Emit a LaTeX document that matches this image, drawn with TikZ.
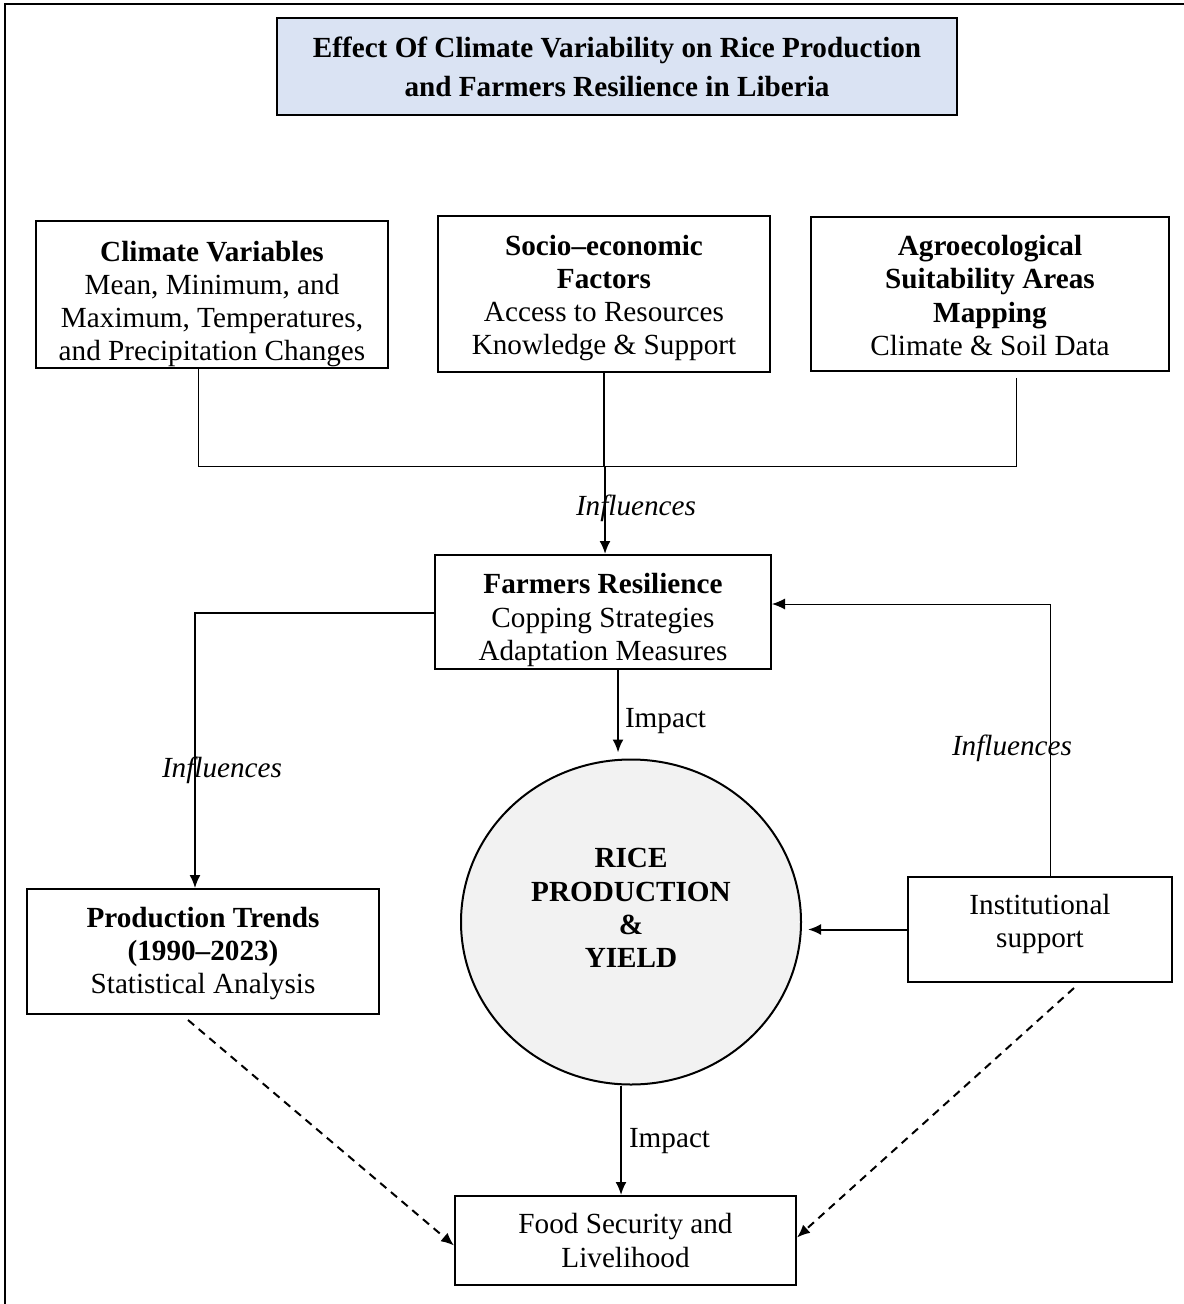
\documentclass[tikz,border=0pt]{standalone}
\usepackage{fontspec}
\setmainfont{Liberation Serif}
\usetikzlibrary{arrows.meta,calc,shapes.geometric}
\definecolor{titlefill}{HTML}{DAE3F3}
\definecolor{ricefill}{HTML}{F2F2F2}
\newcommand{\bodyfs}{\fontsize{14.6}{16.6}\selectfont}
\newcommand{\titlefs}{\fontsize{14.6}{19.5}\selectfont\bfseries}
\begin{document}
\begin{tikzpicture}[x=0.5pt,y=-0.5pt,
  box/.style={draw, line width=1pt, inner sep=0pt, align=center, font=\bodyfs},
  thinline/.style={line width=0.5pt},
  thickline/.style={line width=1pt},
  arrowline/.style={line width=1pt, -{Latex[length=6.5pt,width=5.5pt]}},
  thinarrow/.style={line width=0.5pt, -{Latex[length=6.5pt,width=5.5pt]}},
  dashedarrow/.style={line width=1pt, dash pattern=on 4pt off 3pt, -{Latex[length=6.5pt,width=5.5pt]}},
  lbl/.style={font=\bodyfs\itshape, inner sep=0pt},
  lblup/.style={font=\bodyfs, inner sep=0pt, anchor=west}
]
\useasboundingbox (0,0) rectangle (1183,1304);
\draw[line width=1pt] (5,4) rectangle (1195,1315);

\node[box, line width=1.3pt, fill=titlefill, minimum width=340pt, minimum height=48.5pt, font=\titlefs] (title) at (617,66.5)
  {Effect Of Climate Variability on Rice Production\\and Farmers Resilience in Liberia};

\node[box, minimum width=176pt, minimum height=73.5pt] (clim) at (212,294.5)
  {\textbf{Climate Variables}\\Mean, Minimum, and\\Maximum, Temperatures,\\and Precipitation Changes\\[-23pt]\mbox{}};
\node[box, minimum width=166pt, minimum height=78pt] (socio) at (604,294)
  {\textbf{Socio–economic}\\\textbf{Factors}\\Access to Resources\\Knowledge \& Support\\[-17.6pt]\mbox{}};
\node[box, minimum width=179pt, minimum height=77pt] (agro) at (990,294)
  {\textbf{Agroecological}\\\textbf{Suitability Areas}\\\textbf{Mapping}\\Climate \& Soil Data\\[-18pt]\mbox{}};

\node[box, minimum width=168pt, minimum height=57pt] (farm) at (603,612)
  {\textbf{Farmers Resilience}\\Copping Strategies\\Adaptation Measures\\[-21.6pt]\mbox{}};

\node[draw, line width=1pt, ellipse, fill=ricefill, minimum width=170pt, minimum height=162.5pt, inner sep=0pt,
  align=center, font=\bodyfs\bfseries] (rice) at (631,922)
  {RICE\\PRODUCTION\\\&\\YIELD\\[-2.6pt]\mbox{}};

\node[box, minimum width=132pt, minimum height=52.5pt] (inst) at (1040,929.5)
  {Institutional\\support\\[-8.1pt]\mbox{}};
\node[box, minimum width=176pt, minimum height=62.5pt] (prod) at (203,951.5)
  {\textbf{Production Trends}\\\textbf{(1990–2023)}\\Statistical Analysis\\[-15.6pt]\mbox{}};
\node[box, minimum width=170.5pt, minimum height=44.5pt] (food) at (625.5,1240.5)
  {Food Security and\\Livelihood};

% top merge
\coordinate (jn) at (605,466);
\draw[thinline] ([xshift=-7pt]clim.south) |- (jn);
\draw[thinline] ([xshift=13pt,yshift=-3pt]agro.south) |- (jn);
\draw[thickline] (socio.south) -- (socio.south |- jn);
\draw[arrowline] (jn) -- (jn |- farm.north)
  node[lbl, pos=.45, xshift=15.5pt, yshift=-1.5pt] {Influences};

% farmers -> production trends
\draw[arrowline, line width=0.8pt] ([yshift=-0.5pt]farm.west) -| ([xshift=-4pt]prod.north)
  node[lbl, pos=.78, xshift=13.5pt, yshift=-1.5pt] {Influences};

% institutional -> farmers
\draw[thinarrow] ([xshift=5pt]inst.north) |- ([yshift=4pt]farm.east)
  node[lbl, pos=.24, xshift=-19pt, yshift=-1.5pt] {Influences};

% farmers -> rice
\draw[arrowline, shorten >=3pt] ([xshift=7.5pt]farm.south) -- ([xshift=7.5pt]farm.south |- rice.north)
  node[lblup, pos=.55, xshift=3pt, yshift=-1pt] {Impact};

% institutional -> rice
\draw[arrowline, shorten >=3pt] (inst.west) -- (inst.west -| rice.east);

% rice -> food
\draw[arrowline] ([xshift=-5pt]rice.south) -- ([xshift=-5pt]rice.south |- food.north)
  node[lblup, pos=.48, xshift=3.5pt, yshift=-1.5pt] {Impact};

% dashed
\draw[dashedarrow] ([xshift=-7.5pt,yshift=-2.5pt]prod.south) -- ([yshift=-2.5pt]food.west);
\draw[dashedarrow] ([xshift=17pt,yshift=-2.5pt]inst.south) -- ([yshift=1.5pt]food.east);
\end{tikzpicture}
\end{document}
